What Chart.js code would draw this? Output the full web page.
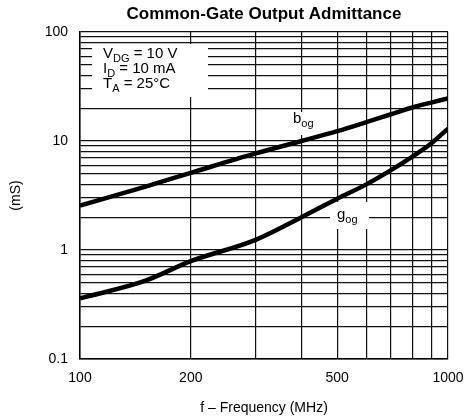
<!DOCTYPE html>
<html>
<head>
<meta charset="utf-8">
<script src="https://cdn.jsdelivr.net/npm/chart.js@4.4.1/dist/chart.umd.min.js"></script>
<style>
  html, body { margin: 0; padding: 0; background: #fff; }
  #wrap { width: 465px; height: 420px; }
</style>
</head>
<body>
<div id="wrap"><canvas id="c" width="465" height="420"></canvas></div>
<script>
// ---- data ----
const freqMHz = [100, 150, 200, 300, 400, 500, 600, 700, 800, 900, 1000];
const bogMS   = [2.55, 3.8, 5.1, 7.7, 10.0, 12.3, 14.9, 17.6, 20.3, 22.5, 24.6];
const gogMS   = [0.36, 0.52, 0.79, 1.24, 2.0, 2.95, 4.0, 5.4, 7.2, 9.5, 13.0];

const xGridValues = [100, 200, 300, 400, 500, 600, 700, 800, 900, 1000];
const xTickLabels = [100, 200, 500, 1000];
const yGridValues = [0.1, 0.2, 0.3, 0.4, 0.5, 0.6, 0.7, 0.8, 0.9,
                     1, 2, 3, 4, 5, 6, 7, 8, 9,
                     10, 20, 30, 40, 50, 60, 70, 80, 90, 100];
const yTickLabels = [0.1, 1, 10, 100];

const titleText = 'Common-Gate Output Admittance';
const xTitle = 'f \u2013 Frequency (MHz)';
const yTitle = '(mS)';
const conditions = [
  ['V', 'DG', ' = 10 V'],
  ['I', 'D', ' = 10 mA'],
  ['T', 'A', ' = 25\u00B0C']
];

const FONT = '"Liberation Sans", Arial, Helvetica, sans-serif';

function drawSub(ctx, x, y, main, sub, rest, size) {
  ctx.font = size + 'px ' + FONT;
  ctx.fillText(main, x, y);
  let w = ctx.measureText(main).width;
  const subSize = Math.round(size * 0.72);
  ctx.font = subSize + 'px ' + FONT;
  ctx.fillText(sub, x + w, y + size * 0.28);
  w += ctx.measureText(sub).width;
  if (rest) {
    ctx.font = size + 'px ' + FONT;
    ctx.fillText(rest, x + w, y);
  }
}

const annotPlugin = {
  id: 'annot',
  beforeDatasetsDraw(chart) {
    const ctx = chart.ctx;
    ctx.save();
    ctx.fillStyle = '#fff';
    // white label backgrounds
    ctx.fillRect(92, 44, 116, 53);
    ctx.fillRect(290, 112, 26, 23);
    ctx.fillRect(330, 202, 39, 27);
    ctx.fillStyle = '#000';
    ctx.textBaseline = 'alphabetic';
    ctx.textAlign = 'left';
    const ys = [58, 73, 88];
    conditions.forEach((c, i) => drawSub(ctx, 103, ys[i], c[0], c[1], c[2], 15));
    drawSub(ctx, 293, 123, 'b', 'og', '', 15);
    drawSub(ctx, 337, 219, 'g', 'og', '', 15);
    ctx.restore();
  },
  afterDraw(chart) {
    const ctx = chart.ctx;
    ctx.save();
    ctx.fillStyle = '#000';
    ctx.font = 'bold 17px ' + FONT;
    ctx.textAlign = 'center';
    ctx.textBaseline = 'middle';
    const a = chart.chartArea;
    ctx.fillText(titleText, (a.left + a.right) / 2, 14);
    ctx.restore();
  }
};

function zeroPad(s) {
  s.paddingLeft = 0; s.paddingRight = 0; s.paddingTop = 0; s.paddingBottom = 0;
}

new Chart(document.getElementById('c'), {
  type: 'line',
  data: {
    datasets: [
      {
        label: 'bog',
        data: freqMHz.map((f, i) => ({ x: f, y: bogMS[i] })),
        borderColor: '#000',
        borderWidth: 4.5,
        pointRadius: 0,
        cubicInterpolationMode: 'monotone',
        fill: false
      },
      {
        label: 'gog',
        data: freqMHz.map((f, i) => ({ x: f, y: gogMS[i] })),
        borderColor: '#000',
        borderWidth: 4.5,
        pointRadius: 0,
        cubicInterpolationMode: 'monotone',
        fill: false
      }
    ]
  },
  options: {
    responsive: false,
    animation: false,
    devicePixelRatio: 1,
    layout: { padding: { top: 32, right: 17, left: 0, bottom: 0 } },
    plugins: {
      legend: { display: false },
      title: { display: false },
      tooltip: { enabled: false }
    },
    scales: {
      x: {
        type: 'logarithmic',
        min: 100,
        max: 1000,
        afterBuildTicks: s => { s.ticks = xGridValues.map(v => ({ value: v })); },
        afterFit: s => { s.height = 61; zeroPad(s); },
        grid: { color: '#111', lineWidth: 1.2, drawTicks: false },
        border: { color: '#000', width: 1.5 },
        ticks: {
          autoSkip: false,
          maxRotation: 0,
          padding: 11,
          color: '#000',
          font: { family: FONT, size: 14 },
          callback: v => xTickLabels.includes(v) ? String(v) : ''
        },
        title: {
          display: true,
          text: xTitle,
          color: '#000',
          font: { family: FONT, size: 14 },
          padding: { top: 0, bottom: 3 }
        }
      },
      y: {
        type: 'logarithmic',
        min: 0.1,
        max: 100,
        afterBuildTicks: s => { s.ticks = yGridValues.map(v => ({ value: v })); },
        afterFit: s => { s.width = 80; zeroPad(s); },
        grid: { color: '#111', lineWidth: 1.2, drawTicks: false },
        border: { color: '#000', width: 1.5 },
        ticks: {
          autoSkip: false,
          padding: 12,
          color: '#000',
          font: { family: FONT, size: 14 },
          callback: v => yTickLabels.includes(v) ? String(v) : ''
        },
        title: {
          display: true,
          text: yTitle,
          color: '#000',
          font: { family: FONT, size: 14 },
          padding: { top: 8, bottom: 0 }
        }
      }
    }
  },
  plugins: [annotPlugin]
});
</script>
</body>
</html>
